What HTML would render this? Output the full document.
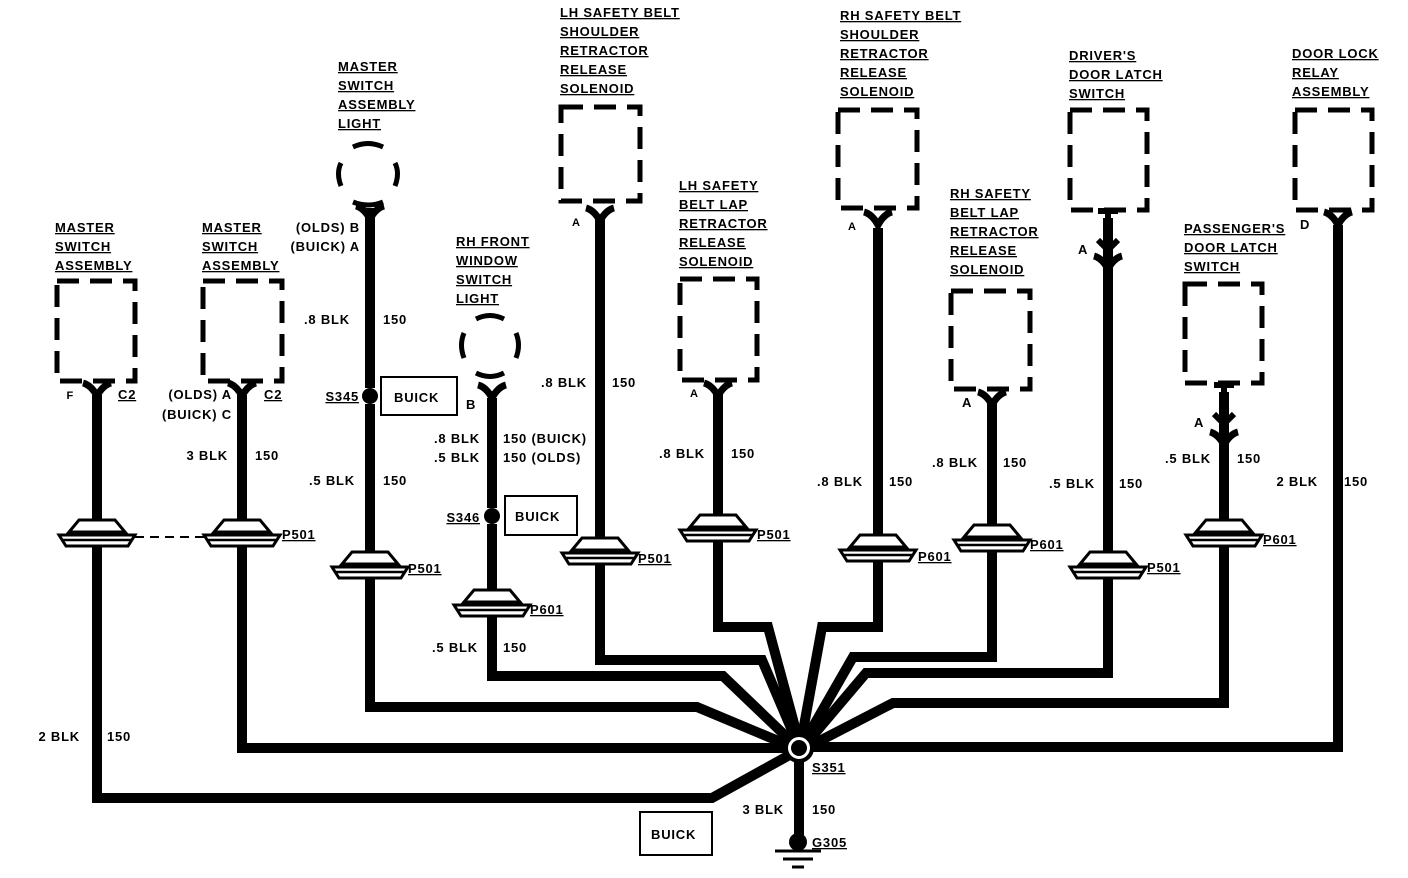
<!DOCTYPE html>
<html><head><meta charset="utf-8"><style>
html,body{margin:0;padding:0;background:#fff}
svg{display:block}
text{font-family:"Liberation Sans",sans-serif;font-weight:bold;font-size:13px;letter-spacing:0.8px;fill:#000}
.u{text-decoration:underline}
</style></head><body>
<svg width="1408" height="878" viewBox="0 0 1408 878" xmlns="http://www.w3.org/2000/svg">
<defs>
<g id="conn">
<path d="M-18,-15 L18,-15 L28,-3 L-28,-3 Z" fill="#fff" stroke="#000" stroke-width="3"/>
<path d="M-38,0 L38,0 L31,11 L-31,11 Z" fill="#fff" stroke="#000" stroke-width="3"/>
<line x1="-35" y1="5" x2="35" y2="5" stroke="#000" stroke-width="2.5"/>
</g>
<path id="fork" d="M-14,0 Q-6,2 0,13 Q6,2 14,0" fill="none" stroke="#000" stroke-width="7"/>
</defs>
<g fill="none" stroke="#000" stroke-width="10" stroke-linejoin="miter">
<path d="M97,395 V798 H712 L795,752"/>
<path d="M242,395 V748 H795"/>
<path d="M370,208 V388 M370,404 V707 H697 L795,748"/>
<path d="M492,398 V508 M492,524 V676 H723 L795,745"/>
<path d="M600,218 V660 H762 L797,742"/>
<path d="M718,392 V627 H768 L799,742"/>
<path d="M878,228 V627 H822 L801,742"/>
<path d="M992,400 V657 H853 L803,744"/>
<path d="M1108,218 V673 H866 L805,745"/>
<path d="M1224,392 V703 H893 L806,748"/>
<path d="M1338,225 V747 H805"/>
<path d="M799,760 V835"/>
</g>
<circle cx="799" cy="748" r="13" fill="#fff" stroke="#000" stroke-width="4"/>
<circle cx="799" cy="748" r="8" fill="#000"/>
<circle cx="798" cy="842" r="9" fill="#000"/>
<line x1="775" y1="851" x2="821" y2="851" stroke="#000" stroke-width="3"/>
<line x1="783" y1="859" x2="813" y2="859" stroke="#000" stroke-width="3"/>
<line x1="792" y1="867" x2="804" y2="867" stroke="#000" stroke-width="3"/>
<g fill="none" stroke="#000" stroke-width="5" stroke-dasharray="22 11">
<rect x="57" y="281" width="78" height="100"/>
<rect x="203" y="281" width="79" height="100"/>
<rect x="561" y="107" width="79" height="94"/>
<rect x="680" y="279" width="77" height="101"/>
<rect x="838" y="110" width="79" height="98"/>
<rect x="951" y="291" width="79" height="98"/>
<rect x="1070" y="110" width="77" height="100"/>
<rect x="1185" y="284" width="77" height="99"/>
<rect x="1295" y="110" width="77" height="100"/>
</g>
<g fill="none" stroke="#000" stroke-width="5">
<path d="M353,147 Q368,140 383,147"/><path d="M341,163 Q336,173 341,186"/><path d="M395,163 Q400,173 395,186"/><path d="M353,202 Q368,208 383,202"/>
<path d="M476,319 Q490,312 504,319"/><path d="M464,333 Q459,345 464,358"/><path d="M516,333 Q521,345 516,358"/><path d="M476,373 Q490,380 504,373"/>
</g>
<use href="#fork" x="97" y="383"/><use href="#fork" x="242" y="383"/><use href="#fork" x="370" y="206"/>
<use href="#fork" x="492" y="385"/><use href="#fork" x="600" y="208"/><use href="#fork" x="718" y="383"/>
<use href="#fork" x="878" y="212"/><use href="#fork" x="992" y="392"/><use href="#fork" x="1338" y="212"/>
<use href="#fork" x="1108" y="256"/><use href="#fork" x="1224" y="432"/>
<g fill="none" stroke="#000" stroke-width="6">
<path d="M1098,211 H1118 M1108,211 V245 M1098,240 L1108,250 L1118,240"/>
<path d="M1214,385 H1234 M1224,385 V420 M1214,414 L1224,424 L1234,414"/>
</g>
<circle cx="370" cy="396" r="8" fill="#000"/>
<circle cx="492" cy="516" r="8" fill="#000"/>
<use href="#conn" x="97" y="535"/><use href="#conn" x="242" y="535"/><use href="#conn" x="370" y="567"/>
<use href="#conn" x="492" y="605"/><use href="#conn" x="600" y="553"/><use href="#conn" x="718" y="530"/>
<use href="#conn" x="878" y="550"/><use href="#conn" x="992" y="540"/><use href="#conn" x="1108" y="567"/>
<use href="#conn" x="1224" y="535"/>
<line x1="135" y1="537" x2="205" y2="537" stroke="#000" stroke-width="2" stroke-dasharray="9 6"/>
<g fill="#fff" stroke="#000" stroke-width="2">
<rect x="381" y="377" width="76" height="38"/>
<rect x="505" y="496" width="72" height="39"/>
<rect x="640" y="812" width="72" height="43"/>
</g>
<text x="394" y="402">BUICK</text><text x="515" y="521">BUICK</text><text x="651" y="839">BUICK</text>
<g>
<text class="u" x="55" y="232">MASTER</text><text class="u" x="55" y="251">SWITCH</text><text class="u" x="55" y="270">ASSEMBLY</text>
<text class="u" x="202" y="232">MASTER</text><text class="u" x="202" y="251">SWITCH</text><text class="u" x="202" y="270">ASSEMBLY</text>
<text class="u" x="338" y="71">MASTER</text><text class="u" x="338" y="90">SWITCH</text><text class="u" x="338" y="109">ASSEMBLY</text><text class="u" x="338" y="128">LIGHT</text>
<text class="u" x="560" y="17">LH SAFETY BELT</text><text class="u" x="560" y="36">SHOULDER</text><text class="u" x="560" y="55">RETRACTOR</text><text class="u" x="560" y="74">RELEASE</text><text class="u" x="560" y="93">SOLENOID</text>
<text class="u" x="679" y="190">LH SAFETY</text><text class="u" x="679" y="209">BELT LAP</text><text class="u" x="679" y="228">RETRACTOR</text><text class="u" x="679" y="247">RELEASE</text><text class="u" x="679" y="266">SOLENOID</text>
<text class="u" x="456" y="246">RH FRONT</text><text class="u" x="456" y="265">WINDOW</text><text class="u" x="456" y="284">SWITCH</text><text class="u" x="456" y="303">LIGHT</text>
<text class="u" x="840" y="20">RH SAFETY BELT</text><text class="u" x="840" y="39">SHOULDER</text><text class="u" x="840" y="58">RETRACTOR</text><text class="u" x="840" y="77">RELEASE</text><text class="u" x="840" y="96">SOLENOID</text>
<text class="u" x="950" y="198">RH SAFETY</text><text class="u" x="950" y="217">BELT LAP</text><text class="u" x="950" y="236">RETRACTOR</text><text class="u" x="950" y="255">RELEASE</text><text class="u" x="950" y="274">SOLENOID</text>
<text class="u" x="1069" y="60">DRIVER'S</text><text class="u" x="1069" y="79">DOOR LATCH</text><text class="u" x="1069" y="98">SWITCH</text>
<text class="u" x="1292" y="58">DOOR LOCK</text><text class="u" x="1292" y="77">RELAY</text><text class="u" x="1292" y="96">ASSEMBLY</text>
<text class="u" x="1184" y="233">PASSENGER'S</text><text class="u" x="1184" y="252">DOOR LATCH</text><text class="u" x="1184" y="271">SWITCH</text>
</g>
<g text-anchor="end">
<text x="74" y="399" style="font-size:11px">F</text>
<text x="232" y="399">(OLDS) A</text><text x="232" y="419">(BUICK) C</text>
<text x="360" y="232">(OLDS) B</text><text x="360" y="251">(BUICK) A</text>
<text x="80" y="741">2 BLK</text>
<text x="228" y="460">3 BLK</text>
<text x="350" y="324">.8 BLK</text><text x="355" y="485">.5 BLK</text>
<text x="480" y="443">.8 BLK</text><text x="480" y="462">.5 BLK</text>
<text x="478" y="652">.5 BLK</text>
<text x="587" y="387">.8 BLK</text>
<text x="705" y="458">.8 BLK</text>
<text x="863" y="486">.8 BLK</text>
<text x="978" y="467">.8 BLK</text>
<text x="1095" y="488">.5 BLK</text>
<text x="1211" y="463">.5 BLK</text>
<text x="1318" y="486">2 BLK</text>
<text x="784" y="814">3 BLK</text>
<text x="359" y="401" class="u">S345</text>
<text x="480" y="522" class="u">S346</text>
</g>
<g>
<text class="u" x="118" y="399">C2</text><text class="u" x="264" y="399">C2</text>
<text x="107" y="741">150</text><text x="255" y="460">150</text>
<text x="383" y="324">150</text><text x="383" y="485">150</text>
<text x="503" y="443">150 (BUICK)</text><text x="503" y="462">150 (OLDS)</text>
<text x="466" y="409">B</text>
<text x="503" y="652">150</text>
<text x="612" y="387">150</text><text x="731" y="458">150</text><text x="889" y="486">150</text>
<text x="1003" y="467">150</text><text x="1119" y="488">150</text><text x="1237" y="463">150</text><text x="1344" y="486">150</text>
<text x="812" y="814">150</text>
<text x="572" y="226" style="font-size:11px">A</text><text x="690" y="397" style="font-size:11px">A</text>
<text x="848" y="230" style="font-size:11px">A</text><text x="962" y="407">A</text>
<text x="1078" y="254">A</text><text x="1194" y="427">A</text><text x="1300" y="229">D</text>
<text class="u" x="282" y="539">P501</text><text class="u" x="408" y="573">P501</text><text class="u" x="530" y="614">P601</text>
<text class="u" x="638" y="563">P501</text><text class="u" x="757" y="539">P501</text><text class="u" x="918" y="561">P601</text>
<text class="u" x="1030" y="549">P601</text><text class="u" x="1147" y="572">P501</text><text class="u" x="1263" y="544">P601</text>
<text class="u" x="812" y="772">S351</text><text class="u" x="812" y="847">G305</text>
</g>
</svg>
</body></html>
